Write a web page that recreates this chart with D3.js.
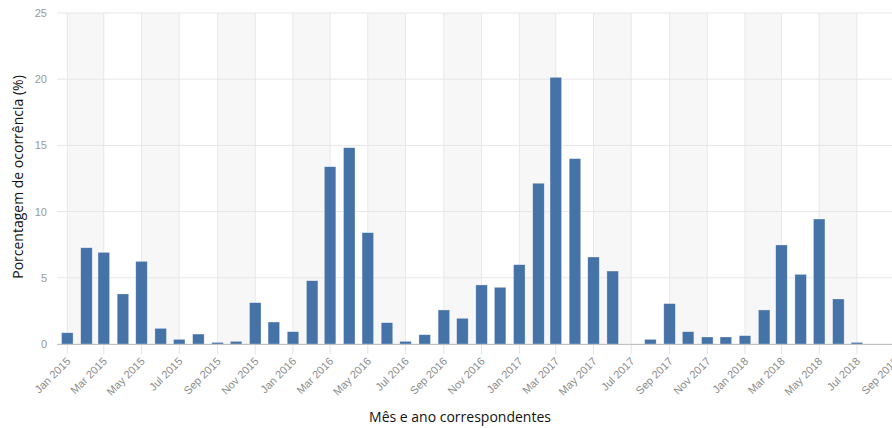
<!DOCTYPE html>
<html>
<head>
<meta charset="utf-8">
<script src="https://cdn.jsdelivr.net/npm/d3@7/dist/d3.min.js"></script>
<style>
  html, body { margin: 0; padding: 0; background: #fff; }
  svg { display: block; }
</style>
</head>
<body>
<svg id="chart" width="892" height="428"></svg>
<script>
// ---- data ----
const months = [
  "2015-01","2015-02","2015-03","2015-04","2015-05","2015-06","2015-07","2015-08","2015-09","2015-10","2015-11","2015-12",
  "2016-01","2016-02","2016-03","2016-04","2016-05","2016-06","2016-07","2016-08","2016-09","2016-10","2016-11","2016-12",
  "2017-01","2017-02","2017-03","2017-04","2017-05","2017-06","2017-07","2017-08","2017-09","2017-10","2017-11","2017-12",
  "2018-01","2018-02","2018-03","2018-04","2018-05","2018-06","2018-07"
];
const values = [
  0.85, 7.27, 6.92, 3.78, 6.24, 1.18, 0.35, 0.75, 0.12, 0.2, 3.12, 1.66,
  0.93, 4.78, 13.39, 14.83, 8.41, 1.61, 0.2, 0.7, 2.57, 1.94, 4.46, 4.28,
  5.99, 12.14, 20.14, 14.0, 6.57, 5.51, 0, 0.35, 3.05, 0.93, 0.53, 0.53,
  0.63, 2.57, 7.48, 5.26, 9.44, 3.4, 0.12
];
const xTickMonths = [
  "2015-01","2015-03","2015-05","2015-07","2015-09","2015-11",
  "2016-01","2016-03","2016-05","2016-07","2016-09","2016-11",
  "2017-01","2017-03","2017-05","2017-07","2017-09","2017-11",
  "2018-01","2018-03","2018-05","2018-07","2018-09"
];
const yTicks = [0, 5, 10, 15, 20, 25];
const yTitle = "Porcentagem de ocorrência (%)";
const xTitle = "Mês e ano correspondentes";

// ---- layout ----
const W = 892, H = 428;
const plotLeft = 57, plotRight = 892, plotTop = 13, plotBottom = 344;

const parse = s => { const [y, m] = s.split("-").map(Number); return new Date(Date.UTC(y, m - 1, 1)); };

const x = d3.scaleUtc()
  .domain([parse("2015-01"), parse("2018-01")])
  .range([67.3, 745]);
const y = d3.scaleLinear().domain([0, 25]).range([plotBottom, plotTop]);

const svg = d3.select("#chart");
const fmt = d3.utcFormat("%b %Y");

const defs = svg.append("defs");
defs.append("clipPath").attr("id", "plotclip")
  .append("rect").attr("x", plotLeft).attr("y", plotTop - 1)
  .attr("width", plotRight - plotLeft).attr("height", plotBottom - plotTop + 2);

const ticks = xTickMonths.map(parse);

// alternate bands
const bandG = svg.append("g").attr("clip-path", "url(#plotclip)");
for (let i = 0; i + 1 < ticks.length; i += 2) {
  bandG.append("rect")
    .attr("x", x(ticks[i]))
    .attr("y", plotTop)
    .attr("width", x(ticks[i + 1]) - x(ticks[i]))
    .attr("height", plotBottom - plotTop)
    .attr("fill", "#f7f7f7");
}

// vertical grid lines
const gridG = svg.append("g").attr("clip-path", "url(#plotclip)");
gridG.selectAll("line.vg").data(ticks).enter().append("line")
  .attr("x1", d => x(d)).attr("x2", d => x(d))
  .attr("y1", plotTop).attr("y2", plotBottom)
  .attr("stroke", "#e8e8e8").attr("stroke-width", 1);

// horizontal grid lines
gridG.selectAll("line.hg").data(yTicks).enter().append("line")
  .attr("x1", plotLeft).attr("x2", plotRight)
  .attr("y1", d => y(d)).attr("y2", d => y(d))
  .attr("stroke", "#e6e6e6").attr("stroke-width", 1);

// y labels
svg.append("g").selectAll("text").data(yTicks).enter().append("text")
  .attr("x", 47).attr("y", d => y(d) + 4)
  .attr("text-anchor", "end")
  .attr("font-family", "Liberation Sans, Arial, sans-serif")
  .attr("font-size", 11)
  .attr("fill", "#999")
  .text(d => d);

// bars
const bw = 11.5;
svg.append("g").attr("clip-path", "url(#plotclip)")
  .selectAll("rect").data(months.map((m, i) => ({ d: parse(m), v: values[i] })))
  .enter().append("rect")
  .attr("x", d => x(d.d) - bw / 2)
  .attr("y", d => y(d.v))
  .attr("width", bw)
  .attr("height", d => y(0) - y(d.v))
  .attr("fill", "#4572a7")
  .attr("stroke", "#fff").attr("stroke-width", 0.6).attr("stroke-opacity", 0.5);

// x axis line
svg.append("line")
  .attr("x1", plotLeft).attr("x2", plotRight)
  .attr("y1", plotBottom + 0.5).attr("y2", plotBottom + 0.5)
  .attr("stroke", "#c0c0c0").attr("stroke-width", 1);

// x tick marks
svg.append("g").selectAll("line").data(ticks).enter().append("line")
  .attr("x1", d => x(d)).attr("x2", d => x(d))
  .attr("y1", plotBottom + 1).attr("y2", plotBottom + 10)
  .attr("stroke", "#dbe3ef").attr("stroke-width", 1);

// x tick labels
svg.append("g").selectAll("text").data(ticks).enter().append("text")
  .attr("transform", d => `translate(${x(d) + 4},${plotBottom + 18}) rotate(-45)`)
  .attr("text-anchor", "end")
  .attr("font-family", "Liberation Sans, Arial, sans-serif")
  .attr("font-size", 11)
  .attr("fill", "#8c8c8c")
  .text(d => fmt(d));

// axis titles
svg.append("text")
  .attr("transform", `translate(23,177) rotate(-90)`)
  .attr("text-anchor", "middle")
  .attr("font-family", "Open Sans, Noto Sans, sans-serif")
  .attr("font-size", 14)
  .attr("fill", "#111")
  .text(yTitle);

svg.append("text")
  .attr("x", 460).attr("y", 422)
  .attr("text-anchor", "middle")
  .attr("font-family", "Open Sans, Noto Sans, sans-serif")
  .attr("font-size", 14)
  .attr("fill", "#111")
  .text(xTitle);
</script>
</body>
</html>
